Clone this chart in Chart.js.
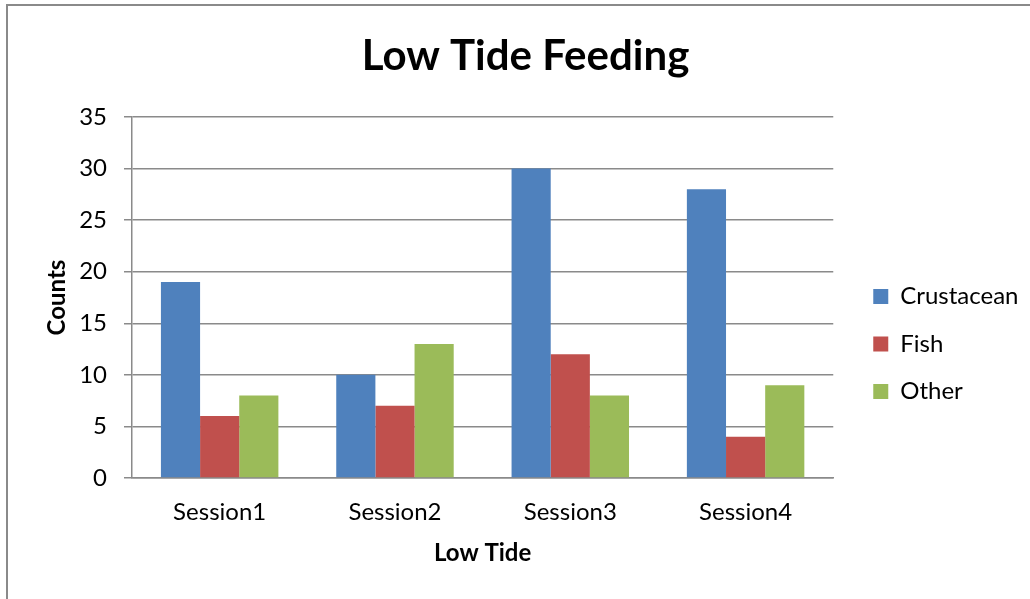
<!DOCTYPE html>
<html>
<head>
<meta charset="utf-8">
<title>Low Tide Feeding</title>
<script src="https://cdn.jsdelivr.net/npm/chart.js@4.4.1/dist/chart.umd.min.js"></script>
<style>
  html, body { margin: 0; padding: 0; background: #ffffff; overflow: hidden; }
  #frame {
    position: absolute; left: 6px; top: 4px; width: 1100px; height: 700px;
    border-left: 2px solid #8a8a8a; border-top: 2px solid #8a8a8a;
  }
  #wrap { position: absolute; left: 0; top: 0; width: 1030px; height: 599px; }
</style>
</head>
<body>
<div id="frame"></div>
<div id="wrap"><canvas id="chart"></canvas></div>
<script>
// Feeding observations per session at low tide
const categories = ['Session1', 'Session2', 'Session3', 'Session4'];
const crustacean = [19, 10, 30, 28];
const fish = [6, 7, 12, 4];
const other = [8, 13, 8, 9];
const yTicks = [0, 5, 10, 15, 20, 25, 30, 35];

const FONT = 'Lato, "Open Sans", sans-serif';
const GRID = '#8a8a8a';

// Places the legend a little right of the plot and centred under the title
const legendPlacement = {
  id: 'legendPlacement',
  afterLayout(chart) {
    const lg = chart.legend;
    if (!lg) return;
    const w = lg.right - lg.left;
    lg.left = chart.chartArea.right + 16.5;
    lg.right = lg.left + w;
    lg.top += 58;
    lg.bottom += 58;
  }
};

new Chart(document.getElementById('chart'), {
  type: 'bar',
  data: {
    labels: categories,
    datasets: [
      { label: 'Crustacean', data: crustacean, backgroundColor: '#4F81BD' },
      { label: 'Fish', data: fish, backgroundColor: '#C0504D' },
      { label: 'Other', data: other, backgroundColor: '#9BBB59' }
    ]
  },
  plugins: [legendPlacement],
  options: {
    responsive: true,
    maintainAspectRatio: false,
    animation: false,
    devicePixelRatio: 1,
    layout: { padding: { left: 39, right: 18, top: 0, bottom: 27 } },
    datasets: { bar: { categoryPercentage: 0.67, barPercentage: 1.0, borderWidth: 0 } },
    plugins: {
      tooltip: { enabled: false },
      title: {
        display: true,
        text: 'Low Tide Feeding',
        color: '#000000',
        font: { family: FONT, size: 42, weight: 'bold' },
        padding: { top: 31, bottom: 35.6 }
      },
      legend: {
        position: 'right',
        labels: {
          color: '#000000',
          font: { family: FONT, size: 24 },
          boxWidth: 15,
          boxHeight: 15,
          padding: 23.5
        }
      }
    },
    scales: {
      x: {
        afterFit: (scale) => { scale.height = 94; },
        grid: { display: false, drawTicks: false },
        border: { display: true, color: GRID, width: 1.5 },
        ticks: { color: '#000000', font: { family: FONT, size: 24 }, padding: 20 },
        title: {
          display: true, text: 'Low Tide', color: '#000000',
          font: { family: FONT, size: 24, weight: 'bold' },
          padding: { top: 4, bottom: 4 }
        }
      },
      y: {
        min: 0,
        max: 35,
        afterBuildTicks: (scale) => { scale.ticks = yTicks.map(v => ({ value: v })); },
        afterFit: (scale) => { scale.width = 93; },
        grid: { color: GRID, lineWidth: 1.5, tickLength: 8, drawTicks: true },
        border: { display: true, color: GRID, width: 1.5 },
        ticks: { color: '#000000', font: { family: FONT, size: 24 }, padding: 17 },
        title: {
          display: true, text: 'Counts', color: '#000000',
          font: { family: FONT, size: 24, weight: 'bold' },
          padding: { top: 4, bottom: 4 }
        }
      }
    }
  }
});
</script>
</body>
</html>
